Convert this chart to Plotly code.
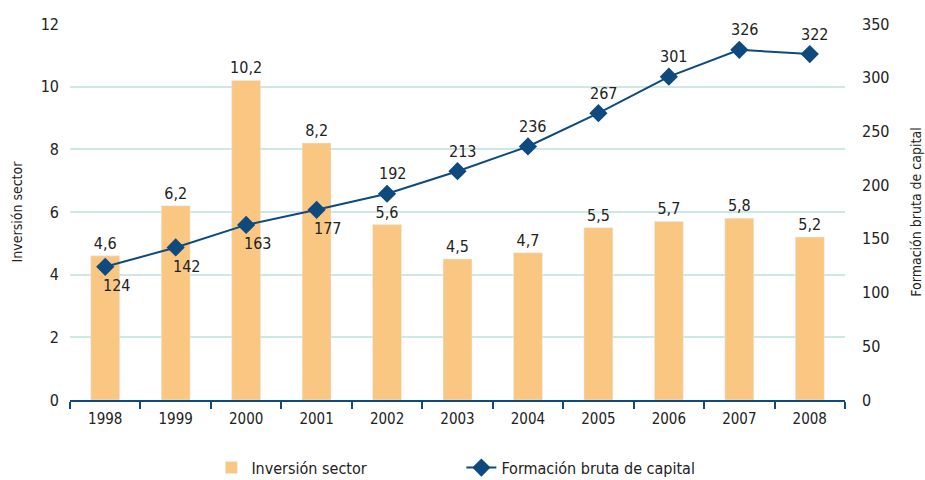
import plotly.graph_objects as go

years = ["1998", "1999", "2000", "2001", "2002", "2003", "2004", "2005", "2006", "2007", "2008"]
inversion = [4.6, 6.2, 10.2, 8.2, 5.6, 4.5, 4.7, 5.5, 5.7, 5.8, 5.2]
formacion = [124, 142, 163, 177, 192, 213, 236, 267, 301, 326, 322]
label_below = [True, True, True, True, False, False, False, False, False, False, False]

def es(v):
    return f"{v:.1f}".replace(".", ",")

FONT = "DejaVu Sans Condensed, Liberation Sans Narrow, Roboto, sans-serif"
BAR = "#FAC782"
LINE = "#0E4A7E"
GRID = "#CDE8E5"

fig = go.Figure()
fig.add_trace(go.Bar(
    x=years, y=inversion, name="Inversión sector", marker_color=BAR,
    text=[es(v) for v in inversion], textposition="outside", cliponaxis=False,
    constraintext="none",
    textfont=dict(size=16, color="#222"), yaxis="y",
))
fig.add_trace(go.Scatter(
    x=years, y=formacion, name="Formación bruta de capital", mode="lines+markers",
    line=dict(color=LINE, width=2), marker=dict(symbol="diamond", size=14, color=LINE),
    cliponaxis=False, yaxis="y2",
))

for i, (v, below) in enumerate(zip(formacion, label_below)):
    fig.add_annotation(
        x=i, y=v, xref="x", yref="y2", text=str(v), showarrow=False,
        xshift=11 if below else 5, yshift=-19 if below else 20,
        font=dict(size=16, color="#222"),
    )

fig.update_layout(
    width=925, height=480,
    margin=dict(l=70, r=80, t=24, b=80, autoexpand=False),
    paper_bgcolor="white", plot_bgcolor="white",
    font=dict(family=FONT, size=15, color="#222"),
    bargap=0.59,
    showlegend=True,
    legend=dict(orientation="h", x=0.505, xanchor="center", y=-0.18, yanchor="middle",
                font=dict(size=16), entrywidthmode="pixels", entrywidth=205),
    xaxis=dict(type="category", categoryarray=years, range=[-0.5, 10.5],
               showline=True, linecolor=LINE, linewidth=2,
               ticks="outside", tickson="boundaries", ticklen=7, tickcolor=LINE, tickwidth=1.5,
               showgrid=False, tickfont=dict(size=15), ticklabelstandoff=4, automargin=False),
    xaxis2=dict(type="category", categoryarray=years, range=[-0.5, 10.5], overlaying="x",
                anchor="y", side="bottom", showline=False,
                ticks="inside", tickson="boundaries", ticklen=7, tickcolor=LINE, tickwidth=1.5,
                showticklabels=False, showgrid=False, automargin=False),
    yaxis=dict(range=[0, 12], dtick=2, showgrid=True, gridcolor=GRID, gridwidth=1.5,
               zeroline=False, title=dict(text="Inversión sector", font=dict(size=14), standoff=14),
               tickfont=dict(size=16), ticklabelstandoff=10, automargin=False),
    yaxis2=dict(range=[0, 350], dtick=50, overlaying="y", side="right", showgrid=False,
                zeroline=False, title=dict(text="Formación bruta de capital", font=dict(size=14), standoff=22),
                tickfont=dict(size=16), ticklabelstandoff=16, automargin=False),
)
fig.write_html("out.html", config={"displayModeBar": False},
               post_script="document.body.style.margin='0';")
